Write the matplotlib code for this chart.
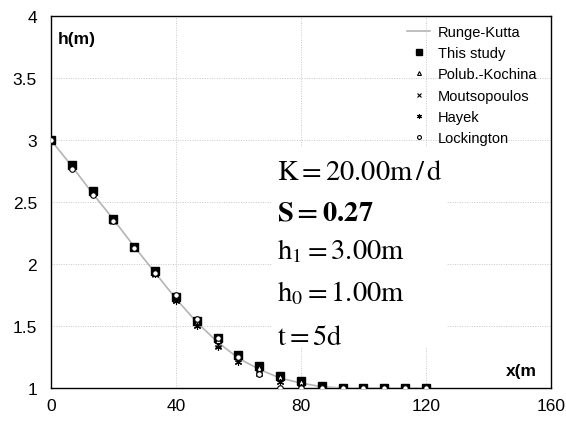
import numpy as np
import matplotlib.pyplot as plt
from matplotlib.patches import Rectangle
from matplotlib.ticker import FormatStrFormatter

plt.rcParams['font.family'] = 'Liberation Sans'
plt.rcParams['mathtext.fontset'] = 'stix'

# distance along the aquifer (m)
x = [0, 6.67, 13.33, 20, 26.67, 33.33, 40, 46.67, 53.33, 60, 66.67,
     73.33, 80, 86.67, 93.33, 100, 106.67, 113.33, 120]

# water table height h (m) at t = 5 d
runge_kutta = [3.00, 2.79, 2.57, 2.36, 2.14, 1.93, 1.72, 1.53, 1.37, 1.24, 1.15,
               1.08, 1.04, 1.01, 1.00, 1.00, 1.00, 1.00, 1.00]
this_study = [3.00, 2.80, 2.59, 2.36, 2.14, 1.94, 1.73, 1.54, 1.40, 1.27, 1.18,
              1.10, 1.06, 1.02, 1.00, 1.00, 1.00, 1.00, 1.00]
polub_kochina = [3.00, 2.79, 2.58, 2.36, 2.14, 1.93, 1.72, 1.53, 1.39, 1.26, 1.16,
                 1.09, 1.05, 1.01, 1.00, 1.00, 1.00, 1.00, 1.00]
moutsopoulos = [3.00, 2.79, 2.57, 2.35, 2.13, 1.92, 1.71, 1.51, 1.35, 1.22, 1.13,
                1.06, 1.02, 1.00, 1.00, 1.00, 1.00, 1.00, 1.00]
hayek = [3.00, 2.79, 2.57, 2.35, 2.13, 1.92, 1.70, 1.50, 1.33, 1.21, 1.11,
         1.05, 1.01, 1.00, 1.00, 1.00, 1.00, 1.00, 1.00]
lockington = [3.00, 2.77, 2.56, 2.35, 2.13, 1.93, 1.75, 1.56, 1.40, 1.25, 1.11,
              1.00, 1.00, 1.00, 1.00, 1.00, 1.00, 1.00, 1.00]

params = [r'$\mathrm{K = 20.00m\,/\,d}$',
          r'$\mathbf{S = 0.27}$',
          r'$\mathrm{h_1 = 3.00m}$',
          r'$\mathrm{h_0 = 1.00m}$',
          r'$\mathrm{t = 5d}$']

fig = plt.figure(figsize=(5.66, 4.27), dpi=100)
ax = fig.add_axes([0.090, 0.089, 0.8835, 0.871])

ax.plot(x, runge_kutta, color='#b4b4b4', lw=1.2, label='Runge-Kutta', zorder=3)
ax.plot(x, this_study, 's', color='black', ms=5.5, label='This study', zorder=4)
ax.plot(x, polub_kochina, '^', mfc='white', mec='black', mew=0.8, ms=4,
        label='Polub.-Kochina', zorder=5)
ax.plot(x, moutsopoulos, 'x', color='black', mew=0.8, ms=4,
        label='Moutsopoulos', zorder=5)
ax.plot(x, hayek, marker=(6, 2, 0), ls='none', color='black', mew=0.8, ms=5,
        label='Hayek', zorder=5)
ax.plot(x, lockington, 'o', mfc='white', mec='black', mew=0.8, ms=4,
        label='Lockington', zorder=6)

ax.set_xlim(0, 160)
ax.set_ylim(1, 4)
ax.set_xticks(np.arange(0, 161, 40))
ax.set_yticks(np.arange(1, 4.01, 0.5))
ax.yaxis.set_major_formatter(FormatStrFormatter('%g'))
ax.tick_params(length=0, labelsize=12.5)
ax.tick_params(axis='y', pad=10)
ax.tick_params(axis='x', pad=7)
ax.grid(True, color='#c8c8c8', ls=(0, (1, 1.5)), lw=0.7)
for s in ax.spines.values():
    s.set_linewidth(1.0)

# white panel holding the parameters
ax.add_patch(Rectangle((0.442, 0.110), 0.35, 0.538, transform=ax.transAxes,
                       facecolor='white', edgecolor='none', zorder=2))
for txt, yy in zip(params, [0.562, 0.454, 0.349, 0.237, 0.118]):
    ax.text(0.452, yy, txt, transform=ax.transAxes, fontsize=20.5,
            va='baseline', ha='left', zorder=3)

ax.text(0.014, 0.94, 'h(m)', transform=ax.transAxes, fontsize=12.5,
        fontweight='bold', va='center', ha='left')
ax.text(0.972, 0.046, 'x(m', transform=ax.transAxes, fontsize=12.5,
        fontweight='bold', va='center', ha='right')

leg = ax.legend(loc='upper right', frameon=False, fontsize=10.5,
                handlelength=1.6, handletextpad=0.5, labelspacing=0.5,
                markerscale=0.7, borderaxespad=0.2,
                bbox_to_anchor=(0.99, 1.0))

fig.savefig('out.png', dpi=100)
